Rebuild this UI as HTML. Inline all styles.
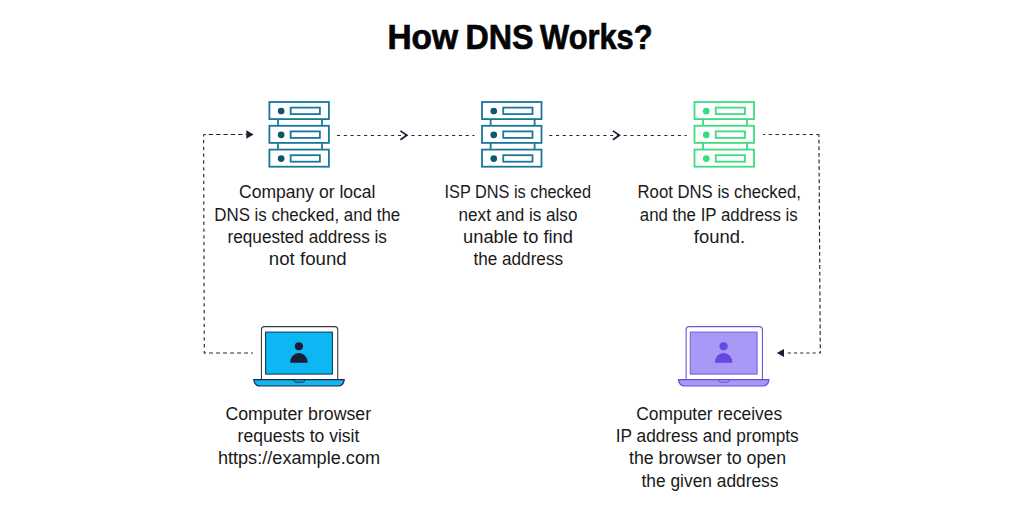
<!DOCTYPE html>
<html><head><meta charset="utf-8"><style>
html,body{margin:0;padding:0;background:#fff;width:1024px;height:512px;overflow:hidden}
svg{display:block}
.t text{font-family:"Liberation Sans",sans-serif;font-size:17.5px;fill:#1a1a1a;text-anchor:middle}
.t .h{font-family:"Liberation Sans",sans-serif;font-weight:bold;font-size:34.5px;fill:#050505;stroke:#050505;stroke-width:0.7px;text-anchor:middle}
</style></head><body>
<svg width="1024" height="512" viewBox="0 0 1024 512">
<rect width="1024" height="512" fill="#fff"/>
<rect x="269.40" y="102.00" width="59.50" height="17.10" fill="none" stroke="#19779b" stroke-width="1.8"/>
<circle cx="281.15" cy="111.00" r="3.35" fill="#0c586a"/>
<rect x="290.65" y="107.60" width="29.25" height="6.5" fill="none" stroke="#19779b" stroke-width="1.8"/>
<line x1="278.00" y1="119.50" x2="278.00" y2="125.40" stroke="#19779b" stroke-width="1.8"/>
<line x1="322.00" y1="119.50" x2="322.00" y2="125.40" stroke="#19779b" stroke-width="1.8"/>
<rect x="269.40" y="125.80" width="59.50" height="17.10" fill="none" stroke="#19779b" stroke-width="1.8"/>
<circle cx="281.15" cy="134.80" r="3.35" fill="#0c586a"/>
<rect x="290.65" y="131.40" width="29.25" height="6.5" fill="none" stroke="#19779b" stroke-width="1.8"/>
<line x1="278.00" y1="143.30" x2="278.00" y2="149.20" stroke="#19779b" stroke-width="1.8"/>
<line x1="322.00" y1="143.30" x2="322.00" y2="149.20" stroke="#19779b" stroke-width="1.8"/>
<rect x="269.40" y="149.60" width="59.50" height="17.10" fill="none" stroke="#19779b" stroke-width="1.8"/>
<circle cx="281.15" cy="158.60" r="3.35" fill="#0c586a"/>
<rect x="290.65" y="155.20" width="29.25" height="6.5" fill="none" stroke="#19779b" stroke-width="1.8"/>
<rect x="482.00" y="102.00" width="59.50" height="17.10" fill="none" stroke="#19779b" stroke-width="1.8"/>
<circle cx="493.75" cy="111.00" r="3.35" fill="#0c586a"/>
<rect x="503.25" y="107.60" width="29.25" height="6.5" fill="none" stroke="#19779b" stroke-width="1.8"/>
<line x1="490.60" y1="119.50" x2="490.60" y2="125.40" stroke="#19779b" stroke-width="1.8"/>
<line x1="534.60" y1="119.50" x2="534.60" y2="125.40" stroke="#19779b" stroke-width="1.8"/>
<rect x="482.00" y="125.80" width="59.50" height="17.10" fill="none" stroke="#19779b" stroke-width="1.8"/>
<circle cx="493.75" cy="134.80" r="3.35" fill="#0c586a"/>
<rect x="503.25" y="131.40" width="29.25" height="6.5" fill="none" stroke="#19779b" stroke-width="1.8"/>
<line x1="490.60" y1="143.30" x2="490.60" y2="149.20" stroke="#19779b" stroke-width="1.8"/>
<line x1="534.60" y1="143.30" x2="534.60" y2="149.20" stroke="#19779b" stroke-width="1.8"/>
<rect x="482.00" y="149.60" width="59.50" height="17.10" fill="none" stroke="#19779b" stroke-width="1.8"/>
<circle cx="493.75" cy="158.60" r="3.35" fill="#0c586a"/>
<rect x="503.25" y="155.20" width="29.25" height="6.5" fill="none" stroke="#19779b" stroke-width="1.8"/>
<rect x="694.50" y="102.00" width="59.50" height="17.10" fill="none" stroke="#3edc7e" stroke-width="1.8"/>
<circle cx="706.25" cy="111.00" r="3.35" fill="#2ee07a"/>
<rect x="715.75" y="107.60" width="29.25" height="6.5" fill="none" stroke="#3edc7e" stroke-width="1.8"/>
<line x1="703.10" y1="119.50" x2="703.10" y2="125.40" stroke="#3edc7e" stroke-width="1.8"/>
<line x1="747.10" y1="119.50" x2="747.10" y2="125.40" stroke="#3edc7e" stroke-width="1.8"/>
<rect x="694.50" y="125.80" width="59.50" height="17.10" fill="none" stroke="#3edc7e" stroke-width="1.8"/>
<circle cx="706.25" cy="134.80" r="3.35" fill="#2ee07a"/>
<rect x="715.75" y="131.40" width="29.25" height="6.5" fill="none" stroke="#3edc7e" stroke-width="1.8"/>
<line x1="703.10" y1="143.30" x2="703.10" y2="149.20" stroke="#3edc7e" stroke-width="1.8"/>
<line x1="747.10" y1="143.30" x2="747.10" y2="149.20" stroke="#3edc7e" stroke-width="1.8"/>
<rect x="694.50" y="149.60" width="59.50" height="17.10" fill="none" stroke="#3edc7e" stroke-width="1.8"/>
<circle cx="706.25" cy="158.60" r="3.35" fill="#2ee07a"/>
<rect x="715.75" y="155.20" width="29.25" height="6.5" fill="none" stroke="#3edc7e" stroke-width="1.8"/>
<path d="M204.3,353 L253,353" stroke="#26263a" stroke-width="1.0625" fill="none" stroke-dasharray="3.9 3.1" stroke-dashoffset="2.2"/>
<path d="M204.3,353.6 L203.6,134.5" stroke="#26263a" stroke-width="1.1475" fill="none" stroke-dasharray="3.3 3.506" stroke-dashoffset="0.6"/>
<path d="M203.6,134.5 L246,134.5" stroke="#26263a" stroke-width="1.105" fill="none" stroke-dasharray="4.4 2.95" stroke-dashoffset="2.25"/>
<polygon points="246.3,130.25 253.6,134.45 246.3,138.65" fill="#1e1d35"/>
<path d="M337,135.5 L474.5,135.5" stroke="#26263a" stroke-width="1.105" fill="none" stroke-dasharray="3.1 3.67" stroke-dashoffset="0"/>
<path d="M400.4,130.9 L406.9,135.3 L400.4,139.7" stroke="#1e1d35" stroke-width="1.7" fill="none"/>
<path d="M549.2,135.5 L686.7,135.5" stroke="#26263a" stroke-width="1.105" fill="none" stroke-dasharray="3.1 3.67" stroke-dashoffset="0"/>
<path d="M612.9,130.9 L619.4,135.3 L612.9,139.7" stroke="#1e1d35" stroke-width="1.7" fill="none"/>
<path d="M763.2,134.5 L818.9,134.5" stroke="#26263a" stroke-width="1.105" fill="none" stroke-dasharray="3.5 3.3" stroke-dashoffset="1.3"/>
<path d="M820.3,353.2 L818.9,134.5" stroke="#26263a" stroke-width="1.1475" fill="none" stroke-dasharray="3.9 2.7" stroke-dashoffset="1.6"/>
<path d="M820.3,353 L786.5,353" stroke="#26263a" stroke-width="1.0625" fill="none" stroke-dasharray="3.1 3.1" stroke-dashoffset="1.6"/>
<polygon points="776.8,353 784,348.9 784,357.1" fill="#1e1d35"/>
<path d="M261.45,379.5 V329.65 Q261.45,326.65 264.45,326.65 H334.75 Q337.75,326.65 337.75,329.65 V379.5" fill="#fff" stroke="#3a3a48" stroke-width="1.1"/>
<rect x="265.60" y="332.1" width="66.8" height="42" fill="#0db7f4" stroke="#12365c" stroke-width="1.05"/>
<circle cx="298.90" cy="346.25" r="4.1" fill="#1d1a38"/>
<path d="M290.10,362.65 A8.8 9.65 0 0 1 307.70,362.65 Z" fill="#1d1a38"/>
<path d="M253.70,379.6 H344.30 Q343.40,386 337.90,386 H260.10 Q254.60,386 253.70,379.6 Z" fill="#14b4f0" stroke="#1b2846" stroke-width="1.2" stroke-linejoin="round"/>
<path d="M293.70,379.6 L294.30,381.2 Q294.70,382.2 295.90,382.2 H302.60 Q303.80,382.2 304.20,381.2 L304.80,379.6" fill="none" stroke="#1b2846" stroke-width="1"/>
<path d="M686.15,379.5 V329.65 Q686.15,326.65 689.15,326.65 H759.45 Q762.45,326.65 762.45,329.65 V379.5" fill="#fff" stroke="#6b56d9" stroke-width="1.1"/>
<rect x="690.30" y="332.1" width="66.8" height="42" fill="#a999f6" stroke="#7560dc" stroke-width="1.05"/>
<circle cx="723.60" cy="346.25" r="4.1" fill="#6846e4"/>
<path d="M714.80,362.65 A8.8 9.65 0 0 1 732.40,362.65 Z" fill="#6846e4"/>
<path d="M678.40,379.6 H769.00 Q768.10,386 762.60,386 H684.80 Q679.30,386 678.40,379.6 Z" fill="#a796f5" stroke="#6650d6" stroke-width="1.2" stroke-linejoin="round"/>
<path d="M718.40,379.6 L719.00,381.2 Q719.40,382.2 720.60,382.2 H727.30 Q728.50,382.2 728.90,381.2 L729.50,379.6" fill="none" stroke="#6650d6" stroke-width="1"/>

<g class="t">
<text class="h" x="422.70" y="49.20" textLength="70.63" lengthAdjust="spacingAndGlyphs">How</text>
<text class="h" x="499.60" y="49.20" textLength="68.04" lengthAdjust="spacingAndGlyphs">DNS</text>
<text class="h" x="596.35" y="49.20" textLength="112.49" lengthAdjust="spacingAndGlyphs">Works?</text>
<text x="307.25" y="197.70" textLength="136.57" lengthAdjust="spacingAndGlyphs">Company or local</text>
<text x="307.25" y="221.00" textLength="186.01" lengthAdjust="spacingAndGlyphs">DNS is checked, and the</text>
<text x="307.25" y="243.00" textLength="159.47" lengthAdjust="spacingAndGlyphs">requested address is</text>
<text x="307.75" y="264.70" textLength="77.78" lengthAdjust="spacingAndGlyphs">not found</text>
<text x="517.75" y="197.70" textLength="146.45" lengthAdjust="spacingAndGlyphs">ISP DNS is checked</text>
<text x="518.00" y="221.00" textLength="118.81" lengthAdjust="spacingAndGlyphs">next and is also</text>
<text x="518.00" y="243.00" textLength="109.89" lengthAdjust="spacingAndGlyphs">unable to find</text>
<text x="518.25" y="264.70" textLength="89.65" lengthAdjust="spacingAndGlyphs">the address</text>
<text x="719.25" y="197.70" textLength="163.39" lengthAdjust="spacingAndGlyphs">Root DNS is checked,</text>
<text x="718.75" y="221.00" textLength="157.89" lengthAdjust="spacingAndGlyphs">and the IP address is</text>
<text x="719.50" y="243.00" textLength="51.26" lengthAdjust="spacingAndGlyphs">found.</text>
<text x="298.25" y="419.70" textLength="145.75" lengthAdjust="spacingAndGlyphs">Computer browser</text>
<text x="298.50" y="442.00" textLength="121.78" lengthAdjust="spacingAndGlyphs">requests to visit</text>
<text x="299.00" y="464.30" textLength="162.21" lengthAdjust="spacingAndGlyphs">https://example.com</text>
<text x="709.25" y="419.70" textLength="145.88" lengthAdjust="spacingAndGlyphs">Computer receives</text>
<text x="707.25" y="442.00" textLength="182.88" lengthAdjust="spacingAndGlyphs">IP address and prompts</text>
<text x="707.50" y="464.30" textLength="157.09" lengthAdjust="spacingAndGlyphs">the browser to open</text>
<text x="710.00" y="486.60" textLength="136.96" lengthAdjust="spacingAndGlyphs">the given address</text>
</g>
</svg>
</body></html>
